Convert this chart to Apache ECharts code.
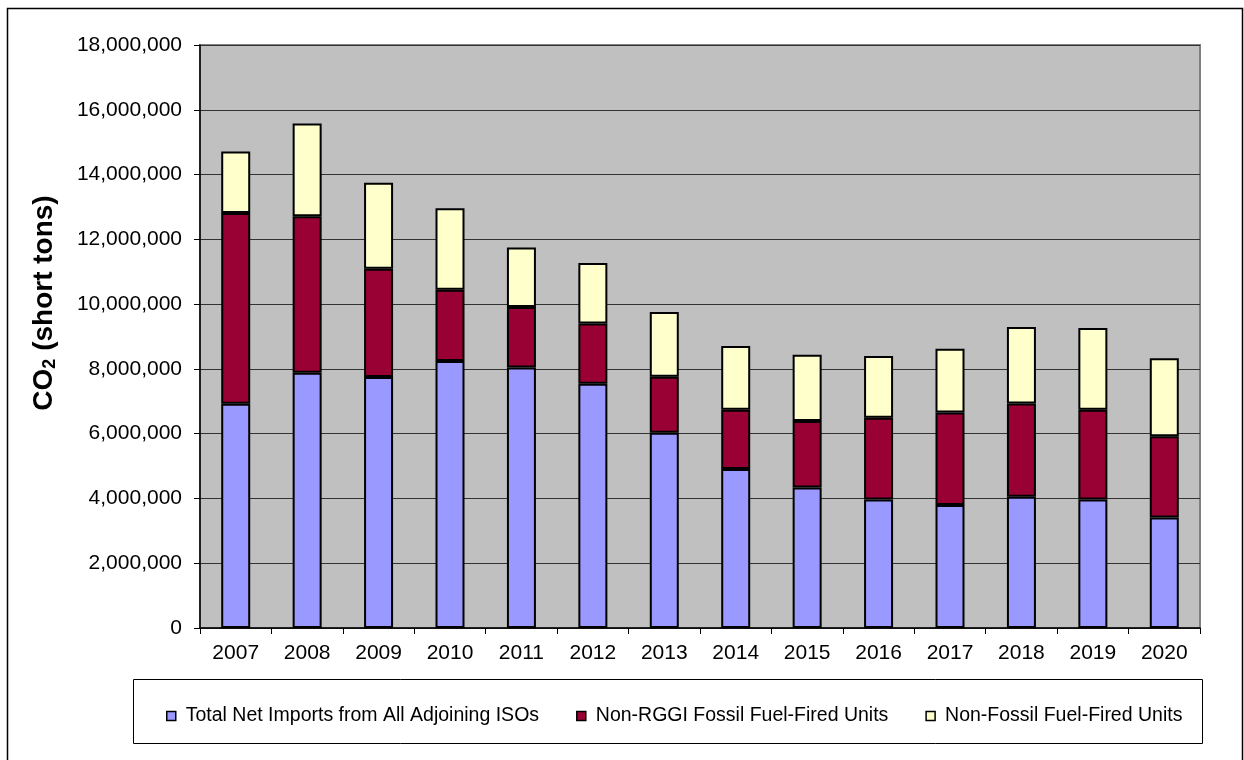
<!DOCTYPE html>
<html>
<head>
<meta charset="utf-8">
<script src="https://cdn.jsdelivr.net/npm/echarts@6/dist/echarts.min.js"></script>
<style>
html,body{margin:0;padding:0;background:#fff;}
#chart{width:1244px;height:760px;}
</style>
</head>
<body>
<div id="chart"></div>
<script>
var years = ['2007','2008','2009','2010','2011','2012','2013','2014','2015','2016','2017','2018','2019','2020'];
var seriesNames = ['Total Net Imports from All Adjoining ISOs','Non-RGGI Fossil Fuel-Fired Units','Non-Fossil Fuel-Fired Units'];
var netImports = [6920000,7880000,7750000,8240000,8040000,7540000,6030000,4910000,4340000,3970000,3800000,4050000,3970000,3410000];
var nonRggiFossil = [5890000,4830000,3340000,2200000,1870000,1860000,1730000,1830000,2050000,2520000,2850000,2880000,2770000,2510000];
var nonFossil = [1900000,2870000,2660000,2520000,1840000,1870000,2000000,1970000,2050000,1910000,1970000,2360000,2520000,2410000];
var yTicks = {min:0, max:18000000, interval:2000000};

var chart = echarts.init(document.getElementById('chart'), null, {renderer:'canvas'});
var font = 'Liberation Sans, Arial, sans-serif';
function fmt(v){ return String(v).replace(/\B(?=(\d{3})+(?!\d))/g, ','); }
var colors = ['#9999FF','#990033','#FFFFCC'];
var dataArr = [netImports, nonRggiFossil, nonFossil];

chart.setOption({
  animation:false,
  backgroundColor:'#ffffff',
  textStyle:{fontFamily:font},
  graphic:[
    {type:'rect', shape:{x:7.5,y:8.5,width:1235,height:770}, style:{fill:'none',stroke:'#000',lineWidth:1.5}, z:-10},
    {type:'rect', shape:{x:133.5,y:679.5,width:1069,height:64}, style:{fill:'#fff',stroke:'#000',lineWidth:1}, z:-5},
    {type:'text', x:44, y:303, rotation:Math.PI/2,
      style:{
        text:'{a|CO}{b|2}{a| (short tons)}',
        align:'center', verticalAlign:'middle',
        rich:{
          a:{fontSize:28, fontWeight:'bold', fill:'#000', fontFamily:font},
          b:{fontSize:18, fontWeight:'bold', fill:'#000', fontFamily:font, padding:[12,0,0,0]}
        }
      }
    }
  ],
  grid:{left:200, right:44, top:45, bottom:132, show:true, backgroundColor:'#C0C0C0', borderColor:'#808080', borderWidth:2},
  legend:{
    data:seriesNames, top:701, left:161, itemWidth:9, itemHeight:9, itemGap:37,
    icon:'rect',
    itemStyle:{borderColor:'#000', borderWidth:1.5},
    textStyle:{fontSize:19.5, color:'#000', fontFamily:font, padding:[0,0,0,5]}
  },
  xAxis:{
    type:'category', data:years,
    axisLine:{lineStyle:{color:'#000', width:1.5}},
    axisTick:{show:true, alignWithLabel:false, length:6, lineStyle:{color:'#000'}},
    axisLabel:{color:'#000', fontSize:21, margin:15, fontFamily:font}
  },
  yAxis:{
    type:'value', min:yTicks.min, max:yTicks.max, interval:yTicks.interval,
    axisLine:{show:true, lineStyle:{color:'#000', width:1.5}},
    axisTick:{show:true, length:6, lineStyle:{color:'#000'}},
    splitLine:{show:true, lineStyle:{color:'#333', width:1.2}},
    axisLabel:{color:'#000', fontSize:21, margin:18, fontFamily:font, formatter:function(v){return fmt(v);}}
  },
  series: seriesNames.map(function(n,i){
    return {
      name:n, type:'bar', stack:'total', barWidth:29,
      itemStyle:{color:colors[i], borderColor:'#000', borderWidth:2},
      data:dataArr[i]
    };
  })
});
</script>
</body>
</html>
